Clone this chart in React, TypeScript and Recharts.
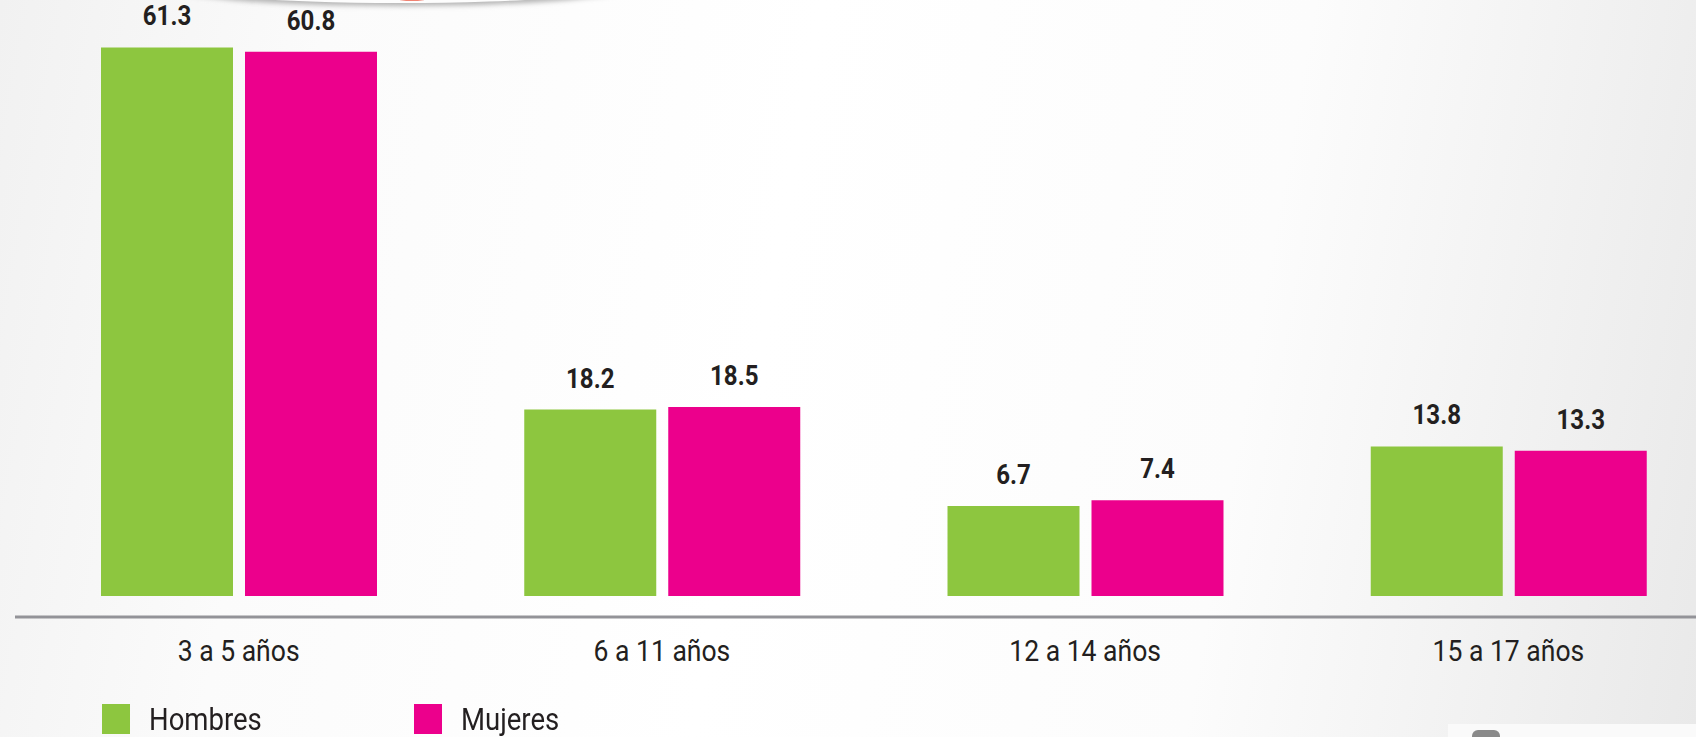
import React from 'react';
import { BarChart, Bar, XAxis, YAxis, LabelList, Legend } from 'recharts';

const categories = ['3 a 5 años', '6 a 11 años', '12 a 14 años', '15 a 17 años'];
const hombres = [61.3, 18.2, 6.7, 13.8];
const mujeres = [60.8, 18.5, 7.4, 13.3];

const GREEN = '#8dc63f';
const PINK = '#ec008c';
const TEXT = '#231f20';
const FONT = 'Roboto, "Noto Sans", sans-serif';

// the original infographic does not start its bars at zero, so the bars are drawn from a floor
const BAR_FLOOR = -4;

const data = categories.map((name, i) => ({
    name,
    hombres: hombres[i],
    mujeres: mujeres[i],
}));

// the source uses a condensed face, so Roboto is squeezed a little
const CategoryTick = (props: any) => {
    const { x, y, payload } = props;
    return (
        <text
            transform={`translate(${x},${y + 44}) scale(0.885,1)`}
            textAnchor="middle"
            fill={TEXT}
            fontFamily={FONT}
            fontSize={30}
        >
            {payload.value}
        </text>
    );
};

const ValueLabel = (props: any) => {
    const { x, y, width, value } = props;
    return (
        <text
            transform={`translate(${x + width / 2},${y - 22}) scale(0.86,1)`}
            textAnchor="middle"
            fill={TEXT}
            fontFamily={FONT}
            fontWeight="bold"
            fontSize={28}
        >
            {value}
        </text>
    );
};

const SquareLegend = (props: any) => {
    const items = props.payload || [];
    return (
        <div style={{ display: 'flex', alignItems: 'center' }}>
            {items.map((item: any, i: number) => (
                <div key={`leg-${i}`} style={{ display: 'flex', alignItems: 'center', width: 312 }}>
                    <span style={{ width: 28, height: 30, background: item.color, display: 'inline-block' }} />
                    <span
                        style={{
                            marginLeft: 19,
                            fontFamily: FONT,
                            fontSize: 32,
                            color: TEXT,
                            lineHeight: '30px',
                            display: 'inline-block',
                            transform: 'scaleX(0.86)',
                            transformOrigin: 'left center',
                        }}
                    >
                        {item.value}
                    </span>
                </div>
            ))}
        </div>
    );
};

const App: React.FC = () => {
    return (
        <div
            style={{
                position: 'absolute',
                left: 0,
                top: 0,
                width: 1696,
                height: 737,
                overflow: 'hidden',
                background: 'linear-gradient(100deg, #f1f1f1 0%, #fbfbfb 18%, #ffffff 45%, #fcfcfc 72%, #e9e9e9 100%)',
            }}
        >
            {/* bottom edge of the round badge above the chart */}
            <svg width={1696} height={40} style={{ position: 'absolute', left: 0, top: 0 }}>
                <defs>
                    <filter id="blur" x="-20%" y="-50%" width="140%" height="200%">
                        <feGaussianBlur stdDeviation="2.5" />
                    </filter>
                </defs>
                <ellipse cx={400} cy={-14} rx={236} ry={20} fill="#b4b4b4" filter="url(#blur)" />
                <ellipse cx={400} cy={-16} rx={232} ry={19} fill="#fdfdfd" />
                <ellipse cx={412} cy={-10} rx={30} ry={11} fill="#f08272" />
            </svg>
            <BarChart
                width={1720}
                height={737}
                data={data}
                margin={{ top: 0, right: 0, left: 15, bottom: 0 }}
                barSize={132}
                barGap={12}
            >
                <YAxis hide domain={[-6.5, 66.95]} />
                <XAxis
                    dataKey="name"
                    height={120}
                    padding={{ left: 12, right: 0 }}
                    axisLine={{ stroke: '#939398', strokeWidth: 3 }}
                    tickLine={false}
                    tickSize={0}
                    tickMargin={0}
                    interval={0}
                    tick={<CategoryTick />}
                />
                <Legend
                    verticalAlign="middle"
                    layout="horizontal"
                    content={<SquareLegend />}
                    wrapperStyle={{ left: 102, top: 704, width: 700, height: 30 }}
                />
                <Bar
                    name="Hombres"
                    dataKey={(d: any) => [BAR_FLOOR, d.hombres]}
                    fill={GREEN}
                    isAnimationActive={false}
                >
                    <LabelList dataKey="hombres" content={<ValueLabel />} />
                </Bar>
                <Bar
                    name="Mujeres"
                    dataKey={(d: any) => [BAR_FLOOR, d.mujeres]}
                    fill={PINK}
                    isAnimationActive={false}
                >
                    <LabelList dataKey="mujeres" content={<ValueLabel />} />
                </Bar>
            </BarChart>
            <div style={{ position: 'absolute', left: 1448, top: 724, width: 248, height: 13, background: '#fafafa' }} />
            <div style={{ position: 'absolute', left: 1472, top: 730, width: 28, height: 12, borderRadius: 6, background: '#8a8a8a' }} />
        </div>
    );
};

export default App;
